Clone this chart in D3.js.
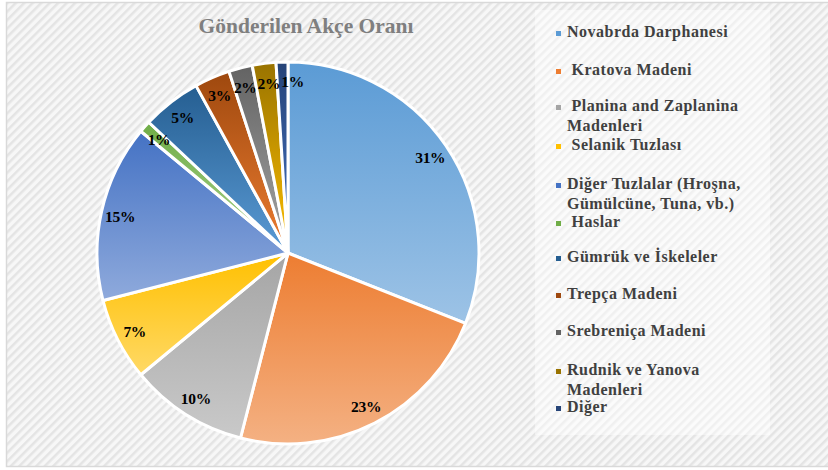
<!DOCTYPE html>
<html>
<head>
<meta charset="utf-8">
<script src="https://d3js.org/d3.v7.min.js"></script>
<style>
body { margin: 0; background: #fff; }
svg { display: block; }
</style>
</head>
<body>
<svg id="chart" width="828" height="470"></svg>
<script>
// Chart data
var categories = ['Novabrda Darphanesi', ' Kratova Madeni', ' Planina and Zaplanina|Madenleri',
    ' Selanik Tuzlası', 'Diğer Tuzlalar (Hroşna,|Gümülcüne, Tuna, vb.)', ' Haslar',
    'Gümrük ve İskeleler', 'Trepça Madeni', 'Srebreniça Madeni', 'Rudnik ve Yanova|Madenleri', 'Diğer'];
var values = [31, 23, 10, 7, 15, 1, 5, 3, 2, 2, 1];
var labels = ['31%', '23%', '10%', '7%', '15%', '1%', '5%', '3%', '2%', '2%', '1%'];
// top (dark) and bottom (light) colors of each slice gradient
var colorsTop = ['#5b9bd5', '#ed7d31', '#a5a5a5', '#ffc000', '#4472c4', '#70ad47',
    '#255e91', '#9e480e', '#636363', '#997300', '#264478'];
var colorsBottom = ['#9dc3e6', '#f4b183', '#c9c9c9', '#ffd966', '#8faadc', '#a9d18e',
    '#5b9bd5', '#ed7d31', '#a5a5a5', '#ffc000', '#4472c4'];
var legendY = [37, 75, 111, 150, 189, 227, 262, 299, 336, 375, 412];

var svg = d3.select('#chart');
var defs = svg.append('defs');

// Diagonal stripe background
var pat = defs.append('pattern')
    .attr('id', 'stripes')
    .attr('patternUnits', 'userSpaceOnUse')
    .attr('width', 6).attr('height', 6)
    .attr('patternTransform', 'rotate(45)');
pat.append('rect').attr('width', 6).attr('height', 6).attr('fill', '#f7f7f7');
pat.append('rect').attr('width', 2.5).attr('height', 6).attr('fill', '#e4e4e4');

svg.append('rect')
    .attr('x', 6.5).attr('y', 2.5).attr('width', 830).attr('height', 464)
    .attr('fill', 'url(#stripes)')
    .attr('stroke', '#d9d9d9').attr('stroke-width', 1.5);

// Lighter legend panel
svg.append('rect')
    .attr('x', 535).attr('y', 10).attr('width', 235).attr('height', 425)
    .attr('fill', '#ffffff').attr('opacity', 0.45);

// Title
svg.append('text')
    .attr('x', 306).attr('y', 33)
    .attr('text-anchor', 'middle')
    .attr('font-family', 'Liberation Serif, Times New Roman, serif')
    .attr('font-weight', 'bold')
    .attr('font-size', 21.5)
    .attr('fill', '#7f7f7f')
    .text('Gönderilen Akçe Oranı');

// Per-slice vertical gradients
colorsTop.forEach(function (c, i) {
    var g = defs.append('linearGradient')
        .attr('id', 'grad' + i)
        .attr('x1', 0).attr('y1', 0).attr('x2', 0).attr('y2', 1);
    g.append('stop').attr('offset', '0%').attr('stop-color', c);
    g.append('stop').attr('offset', '100%').attr('stop-color', colorsBottom[i]);
});

var cx = 288, cy = 253, radius = 191;
var pie = d3.pie().sort(null).value(function (d) { return d; });
var arcs = pie(values);
var arc = d3.arc().innerRadius(0).outerRadius(radius);
var labelArc = d3.arc().innerRadius(172).outerRadius(172);

var g = svg.append('g').attr('transform', 'translate(' + cx + ',' + cy + ')');

g.selectAll('path.slice')
    .data(arcs)
    .enter().append('path')
    .attr('class', 'slice')
    .attr('d', arc)
    .attr('fill', function (d, i) { return 'url(#grad' + i + ')'; })
    .attr('stroke', '#ffffff')
    .attr('stroke-width', 3)
    .attr('stroke-linejoin', 'round');

var labelSel = g.selectAll('text.label')
    .data(arcs)
    .enter().append('text')
    .attr('class', 'label')
    .attr('text-anchor', 'middle')
    .attr('dy', '0.4em')
    .attr('font-family', 'Liberation Serif, Times New Roman, serif')
    .attr('font-weight', 'bold')
    .attr('font-size', 15.5)
    .attr('letter-spacing', -0.3)
    .attr('fill', '#000')
    .text(function (d, i) { return labels[i]; });

// Place labels, nudging neighbours apart when crowded near the top
var pos = [];
labelSel.each(function (d, i) {
    var c = labelArc.centroid(d);
    var w = this.getComputedTextLength();
    if (i > 0) {
        var p = pos[i - 1];
        if (Math.abs(c[1] - p.y) < 12 && c[0] - w / 2 < p.x + p.w / 2 + 1 && c[0] > p.x) {
            c[0] = p.x + p.w / 2 + w / 2 + 1;
        }
    }
    pos.push({ x: c[0], y: c[1], w: w });
    d3.select(this).attr('transform', 'translate(' + c[0] + ',' + c[1] + ')');
});

// Legend
var leg = svg.append('g');
var items = leg.selectAll('g.item')
    .data(categories)
    .enter().append('g')
    .attr('class', 'item')
    .attr('transform', function (d, i) { return 'translate(556,' + legendY[i] + ')'; });

items.append('rect')
    .attr('x', 0).attr('y', -6).attr('width', 5).attr('height', 5)
    .attr('fill', function (d, i) { return colorsTop[i]; });

items.append('text')
    .attr('font-family', 'Liberation Serif, Times New Roman, serif')
    .attr('font-weight', 'bold')
    .attr('font-size', 16)
    .attr('letter-spacing', 0.5)
    .attr('fill', '#404040')
    .attr('xml:space', 'preserve')
    .each(function (d) {
        var t = d3.select(this);
        d.split('|').forEach(function (line, j) {
            t.append('tspan')
                .attr('x', 11)
                .attr('dy', j === 0 ? 0 : 20)
                .text(line);
        });
    });
</script>
</body>
</html>
